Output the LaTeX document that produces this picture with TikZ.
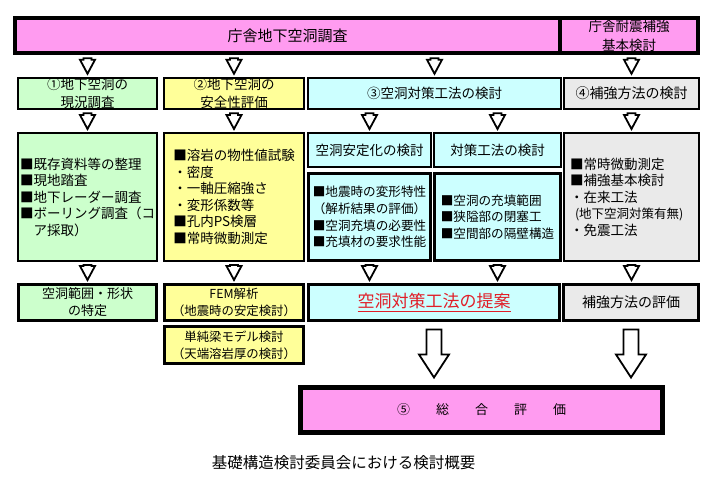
\documentclass[tikz,border=0pt]{standalone}
\usepackage{fontspec}
\setmainfont{Noto Sans CJK JP}
\usetikzlibrary{calc}

\definecolor{pinkBar}{RGB}{255,155,240}
\definecolor{greenBox}{RGB}{204,255,204}
\definecolor{yellowBox}{RGB}{255,255,153}
\definecolor{cyanBox}{RGB}{204,255,255}
\definecolor{grayBox}{RGB}{234,234,234}
\definecolor{redText}{RGB}{225,30,40}

%% hollow block arrow: start, end, gap, shaft half width, head half width, head length
\newcommand{\blockArrow}[6]{%
  \draw[arrowStyle] let \p1=($(#1)+(0,#3)$), \p2=($(#2)-(0,#3)$) in
    (\x1-#4,\y1) -- (\x1+#4,\y1) -- (\x1+#4,\y2+#6) -- (\x1+#5,\y2+#6)
    -- (\x1,\y2) -- (\x1-#5,\y2+#6) -- (\x1-#4,\y2+#6) -- cycle;}
\newcommand{\smallArrow}[2]{\blockArrow{#1}{#2}{3}{4pt}{7.5pt}{14pt}}
\newcommand{\bigArrow}[2]{\blockArrow{#1}{#2}{7.5}{7.5pt}{15pt}{23pt}}

\begin{document}
\begin{tikzpicture}[%%
  x=1pt,y=-1pt,%%
  barStyle/.style={draw,line width=4.5pt,fill=pinkBar,align=center,inner sep=0pt},%%
  headStyle/.style={draw,line width=2.5pt,align=center,inner sep=0pt,font=\fontsize{13.5}{18}\selectfont},%%
  listStyle/.style={draw,line width=2pt,align=left,inner sep=0pt,font=\fontsize{13.5}{16.5}\selectfont},%%
  subStyle/.style={draw,line width=3pt,align=left,inner sep=0pt,fill=cyanBox,font=\fontsize{12.6}{16.8}\selectfont},%%
  resultStyle/.style={draw,line width=3pt,align=center,inner sep=0pt,font=\fontsize{13}{17}\selectfont},%%
  arrowStyle/.style={draw=black,line width=1.8pt,fill=white,line join=miter}%%
]
\useasboundingbox (0,0) rectangle (707,485);
%%
%% Top bars.
\node[barStyle,minimum width=545,minimum height=35,font=\fontsize{15}{18}\selectfont]
  (survey) at (287.5,35.5) {庁舎地下空洞調査};
\node[barStyle,minimum width=138,minimum height=35,font=\fontsize{13.5}{19}\selectfont]
  (reinforce) at (629,35.5) {庁舎耐震補強\\基本検討};
%%
%% Row of the four studies.
\node[headStyle,fill=greenBox,minimum width=139,minimum height=31] (q1) at (87.5,93.5) {①地下空洞の\\現況調査};
\node[headStyle,fill=yellowBox,minimum width=140,minimum height=31] (q2) at (234,93.5) {②地下空洞の\\安全性評価};
\node[headStyle,fill=cyanBox,minimum width=253,minimum height=31] (q3) at (434.5,93.5) {③空洞対策工法の検討};
\node[headStyle,fill=grayBox,minimum width=135,minimum height=31,font=\fontsize{14}{18}\selectfont] (q4) at (631.5,93.5) {④補強方法の検討};
%%
%% Details of each study.
\node[listStyle,fill=greenBox,minimum width=139,minimum height=128] (d1) at (87.5,197)
  {■既存資料等の整理\\■現地踏査\\■地下レーダー調査\\■ボーリング調査（コ\\　ア採取）};
\node[listStyle,fill=yellowBox,minimum width=140,minimum height=128] (d2) at (234,197)
  {■溶岩の物性値試験\\・密度\\・一軸圧縮強さ\\・変形係数等\\■孔内PS検層\\■常時微動測定};
\node[listStyle,fill=cyanBox,minimum width=123,minimum height=34,align=center] (s1) at (369.5,150) {空洞安定化の検討};
\node[listStyle,fill=cyanBox,minimum width=127,minimum height=34,align=center] (s2) at (497.5,150) {対策工法の検討};
\node[subStyle,minimum width=122,minimum height=87] (c1) at (369.5,217)
  {■地震時の変形特性\\（解析結果の評価）\\■空洞充填の必要性\\■充填材の要求性能};
\node[subStyle,minimum width=126,minimum height=87] (c2) at (497.5,217)
  {■空洞の充填範囲\\■狭隘部の閉塞工\\■空間部の隔壁構造};
\node[listStyle,fill=grayBox,minimum width=135,minimum height=128,text width=123] (d4) at (631.5,197)
  {■常時微動測定\\■補強基本検討\\・在来工法\\\hspace*{5pt}{\fontsize{12.5}{16.5}\selectfont (地下空洞対策有無)}\\・免震工法};
%%
%% Results.
\node[resultStyle,fill=greenBox,minimum width=138,minimum height=36] (e1) at (87.5,302.5) {空洞範囲・形状\\の特定};
\node[resultStyle,fill=yellowBox,minimum width=139,minimum height=36,font=\fontsize{12.4}{17}\selectfont] (e2) at (234,302.5) {FEM解析\\（地震時の安定検討）};
\node[resultStyle,fill=yellowBox,minimum width=139,minimum height=37,font=\fontsize{12.4}{17}\selectfont] (f2) at (234,345) {単純梁モデル検討\\（天端溶岩厚の検討）};
\node[resultStyle,fill=cyanBox,minimum width=251,minimum height=36,text=redText,font=\fontsize{17}{20}\selectfont] (e3) at (434,302.5) {\underline{空洞対策工法の提案}};
\node[resultStyle,fill=grayBox,minimum width=135,minimum height=36,font=\fontsize{14}{18}\selectfont] (e4) at (631,302.5) {補強方法の評価};
%%
%% Overall evaluation and caption.
\node[barStyle,line width=5pt,minimum width=362,minimum height=45,font=\fontsize{13}{16}\selectfont] (final) at (481.5,410) {⑤　　総　　合　　評　　価};
\node[font=\fontsize{15.5}{18}\selectfont,inner sep=0pt] (caption) at (343.5,463) {基礎構造検討委員会における検討概要};
%%
%% Arrows from the top bars.
\smallArrow{survey.south -| q1.north}{q1.north}
\smallArrow{survey.south -| q2.north}{q2.north}
\smallArrow{survey.south -| q3.north}{q3.north}
\smallArrow{reinforce.south -| q4.north}{q4.north}
%% Arrows into the details.
\smallArrow{q1.south}{d1.north}
\smallArrow{q2.south}{d2.north}
\smallArrow{q3.south -| s1.north}{s1.north}
\smallArrow{q3.south -| s2.north}{s2.north}
\smallArrow{q4.south}{d4.north}
%% Arrows into the results.
\smallArrow{d1.south}{e1.north}
\smallArrow{d2.south}{e2.north}
\smallArrow{c1.south}{e3.north}
\smallArrow{c2.south}{e3.north}
\smallArrow{d4.south}{e4.north}
%% Arrows into the overall evaluation.
\bigArrow{e3.south}{final.north}
\bigArrow{e4.south}{final.north}
\end{tikzpicture}
\end{document}
